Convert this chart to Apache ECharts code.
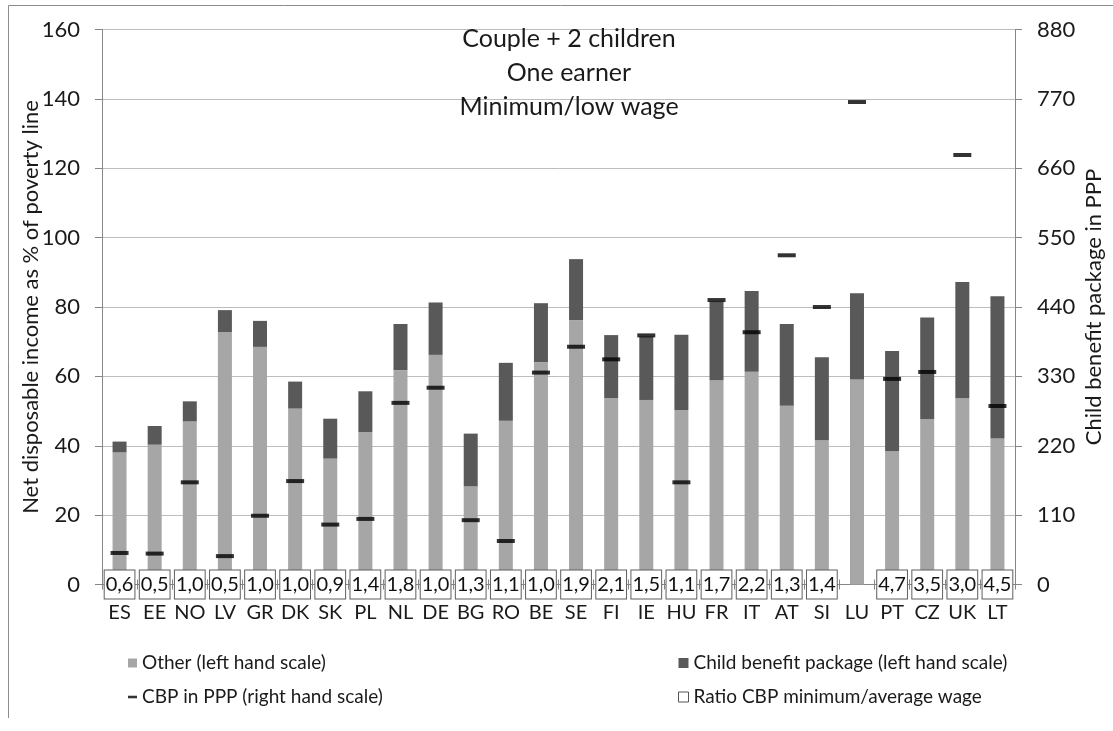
<!DOCTYPE html>
<html>
<head>
<meta charset="utf-8">
<script src="https://cdn.jsdelivr.net/npm/echarts@6/dist/echarts.min.js"></script>
<style>
  html, body { margin: 0; padding: 0; background: #ffffff; }
  #chart { width: 1113px; height: 731px; }
</style>
</head>
<body>
<div id="chart"></div>
<script>
// Countries, ordered by the size of the child benefit package
const countries = ['ES','EE','NO','LV','GR','DK','SK','PL','NL','DE','BG','RO','BE','SE','FI','IE','HU','FR','IT','AT','SI','LU','PT','CZ','UK','LT'];

// Net disposable income as % of poverty line: other income (left scale)
const otherIncome = [38.1, 40.3, 47.0, 72.8, 68.5, 50.7, 36.3, 43.9, 61.8, 66.2, 28.3, 47.2, 64.1, 76.2, 53.7, 53.2, 50.3, 58.9, 61.3, 51.5, 41.6, 59.1, 38.4, 47.7, 53.7, 42.1];

// Child benefit package share (left scale)
const childBenefit = [3.1, 5.4, 5.8, 6.3, 7.5, 7.8, 11.5, 11.8, 13.3, 15.1, 15.2, 16.7, 17.0, 17.6, 18.2, 18.3, 21.7, 22.7, 23.3, 23.6, 23.9, 24.9, 28.9, 29.3, 33.5, 41.0];

// Child benefit package in PPP (right scale)
const cbpPPP = [50, 49, 162, 45, 109, 164, 95, 104, 288, 312, 102, 69, 336, 377, 357, 395, 162, 451, 400, 522, 440, 765, 326, 337, 681, 283];

// Ratio CBP minimum / average wage (no value for LU)
const wageRatio = [0.6, 0.5, 1.0, 0.5, 1.0, 1.0, 0.9, 1.4, 1.8, 1.0, 1.3, 1.1, 1.0, 1.9, 2.1, 1.5, 1.1, 1.7, 2.2, 1.3, 1.4, null, 4.7, 3.5, 3.0, 4.5];

// Axis ranges
const leftAxis = { min: 0, max: 160, interval: 20 };
const rightAxis = { min: 0, max: 880, interval: 110 };

const titleLines = ['Couple + 2 children', 'One earner', 'Minimum/low wage'];

const FONT = 'Lato, "Open Sans", sans-serif';
const AXIS_GREY = '#868686';
const TEXT = '#1a1a1a';

const fmtComma = v => v.toFixed(1).replace('.', ',');

const chart = echarts.init(document.getElementById('chart'), null, { renderer: 'canvas' });

chart.setOption({
  backgroundColor: '#ffffff',
  animation: false,
  textStyle: { fontFamily: FONT },
  grid: { left: 102, right: 92, top: 29.5, bottom: 146.5, containLabel: false },
  graphic: [
    {
      type: 'polyline',
      silent: true,
      shape: { points: [[8.5, 718], [8.5, 5.5], [1113, 5.5]] },
      style: { stroke: '#8c8c8c', lineWidth: 1, fill: null }
    },
    {
      type: 'text',
      silent: true,
      x: 569,
      y: 22,
      z: 10,
      style: {
        text: titleLines.join('\n'),
        fontFamily: FONT,
        fontSize: 25,
        lineHeight: 34,
        fill: TEXT,
        textAlign: 'center',
        textVerticalAlign: 'top'
      }
    }
  ],
  legend: [
    {
      left: 123,
      top: 647,
      orient: 'vertical',
      itemWidth: 9,
      itemHeight: 9,
      itemGap: 12,
      symbolKeepAspect: true,
      textStyle: { fontFamily: FONT, fontSize: 19, color: TEXT, lineHeight: 22 },
      data: [
        { name: 'Other (left hand scale)', icon: 'rect' },
        { name: 'CBP in PPP (right hand scale)', icon: 'path://M0,0H14V4H0Z' }
      ]
    },
    {
      left: 673,
      top: 647,
      orient: 'vertical',
      itemWidth: 10,
      itemHeight: 10,
      itemGap: 12,
      textStyle: { fontFamily: FONT, fontSize: 19, color: TEXT, lineHeight: 22 },
      data: [
        { name: 'Child benefit package (left hand scale)', icon: 'rect' },
        {
          name: 'Ratio CBP minimum/average wage',
          icon: 'rect',
          itemStyle: { color: '#ffffff', borderColor: '#555555', borderWidth: 1 }
        }
      ]
    }
  ],
  xAxis: [
    {
      type: 'category',
      data: countries,
      boundaryGap: true,
      axisLine: { show: true, lineStyle: { color: AXIS_GREY, width: 1 } },
      axisTick: { show: true, length: 5, lineStyle: { color: AXIS_GREY } },
      axisLabel: { interval: 0, fontFamily: FONT, fontSize: 20, color: TEXT, margin: 18 },
      splitLine: { show: false }
    },
    {
      type: 'category',
      data: countries,
      position: 'bottom',
      offset: 0,
      boundaryGap: true,
      axisLine: { show: false },
      axisTick: { show: true, inside: true, length: 5, lineStyle: { color: AXIS_GREY } },
      axisLabel: { show: false },
      splitLine: { show: false }
    }
  ],
  yAxis: [
    {
      type: 'value',
      position: 'left',
      min: leftAxis.min,
      max: leftAxis.max,
      interval: leftAxis.interval,
      name: 'Net disposable income as % of poverty line',
      nameLocation: 'middle',
      nameGap: 60,
      nameMoveOverlap: false,
      nameTextStyle: { fontFamily: FONT, fontSize: 22, color: TEXT },
      axisLine: { show: true, lineStyle: { color: AXIS_GREY, width: 1 } },
      axisTick: { show: true, length: 7, lineStyle: { color: AXIS_GREY } },
      axisLabel: { fontFamily: FONT, fontSize: 22, color: TEXT, margin: 22 },
      splitLine: { show: true, lineStyle: { color: '#bdbdbd', width: 1 } }
    },
    {
      type: 'value',
      position: 'right',
      min: rightAxis.min,
      max: rightAxis.max,
      interval: rightAxis.interval,
      name: 'Child benefit package in PPP',
      nameLocation: 'middle',
      nameGap: 68,
      nameMoveOverlap: false,
      nameTextStyle: { fontFamily: FONT, fontSize: 22, color: TEXT },
      axisLine: { show: true, lineStyle: { color: AXIS_GREY, width: 1 } },
      axisTick: { show: true, length: 7, lineStyle: { color: AXIS_GREY } },
      axisLabel: { fontFamily: FONT, fontSize: 22, color: TEXT, margin: 22 },
      splitLine: { show: false }
    }
  ],
  series: [
    {
      name: 'Other (left hand scale)',
      type: 'bar',
      stack: 'income',
      barWidth: 14,
      data: otherIncome,
      itemStyle: { color: '#a6a6a6' },
      z: 2
    },
    {
      name: 'Child benefit package (left hand scale)',
      type: 'bar',
      stack: 'income',
      barWidth: 14,
      data: childBenefit,
      itemStyle: { color: '#595959' },
      z: 2
    },
    {
      name: 'CBP in PPP (right hand scale)',
      type: 'scatter',
      yAxisIndex: 1,
      symbol: 'rect',
      symbolSize: [18, 4],
      data: cbpPPP,
      itemStyle: { color: '#000000' },
      z: 5
    },
    {
      name: 'Ratio CBP minimum/average wage',
      type: 'scatter',
      yAxisIndex: 0,
      symbol: 'rect',
      symbolSize: 1,
      data: wageRatio.map(r => (r === null ? '-' : 0)),
      itemStyle: { color: '#ffffff', opacity: 1 },
      z: 6,
      label: {
        show: true,
        position: 'inside',
        formatter: p => fmtComma(wageRatio[p.dataIndex]),
        fontFamily: FONT,
        fontSize: 20,
        lineHeight: 21,
        color: '#111111',
        opacity: 1,
        backgroundColor: '#ffffff',
        borderColor: '#5f5f5f',
        borderWidth: 1,
        padding: [4, 1, 3, 1]
      }
    }
  ]
});
</script>
</body>
</html>
